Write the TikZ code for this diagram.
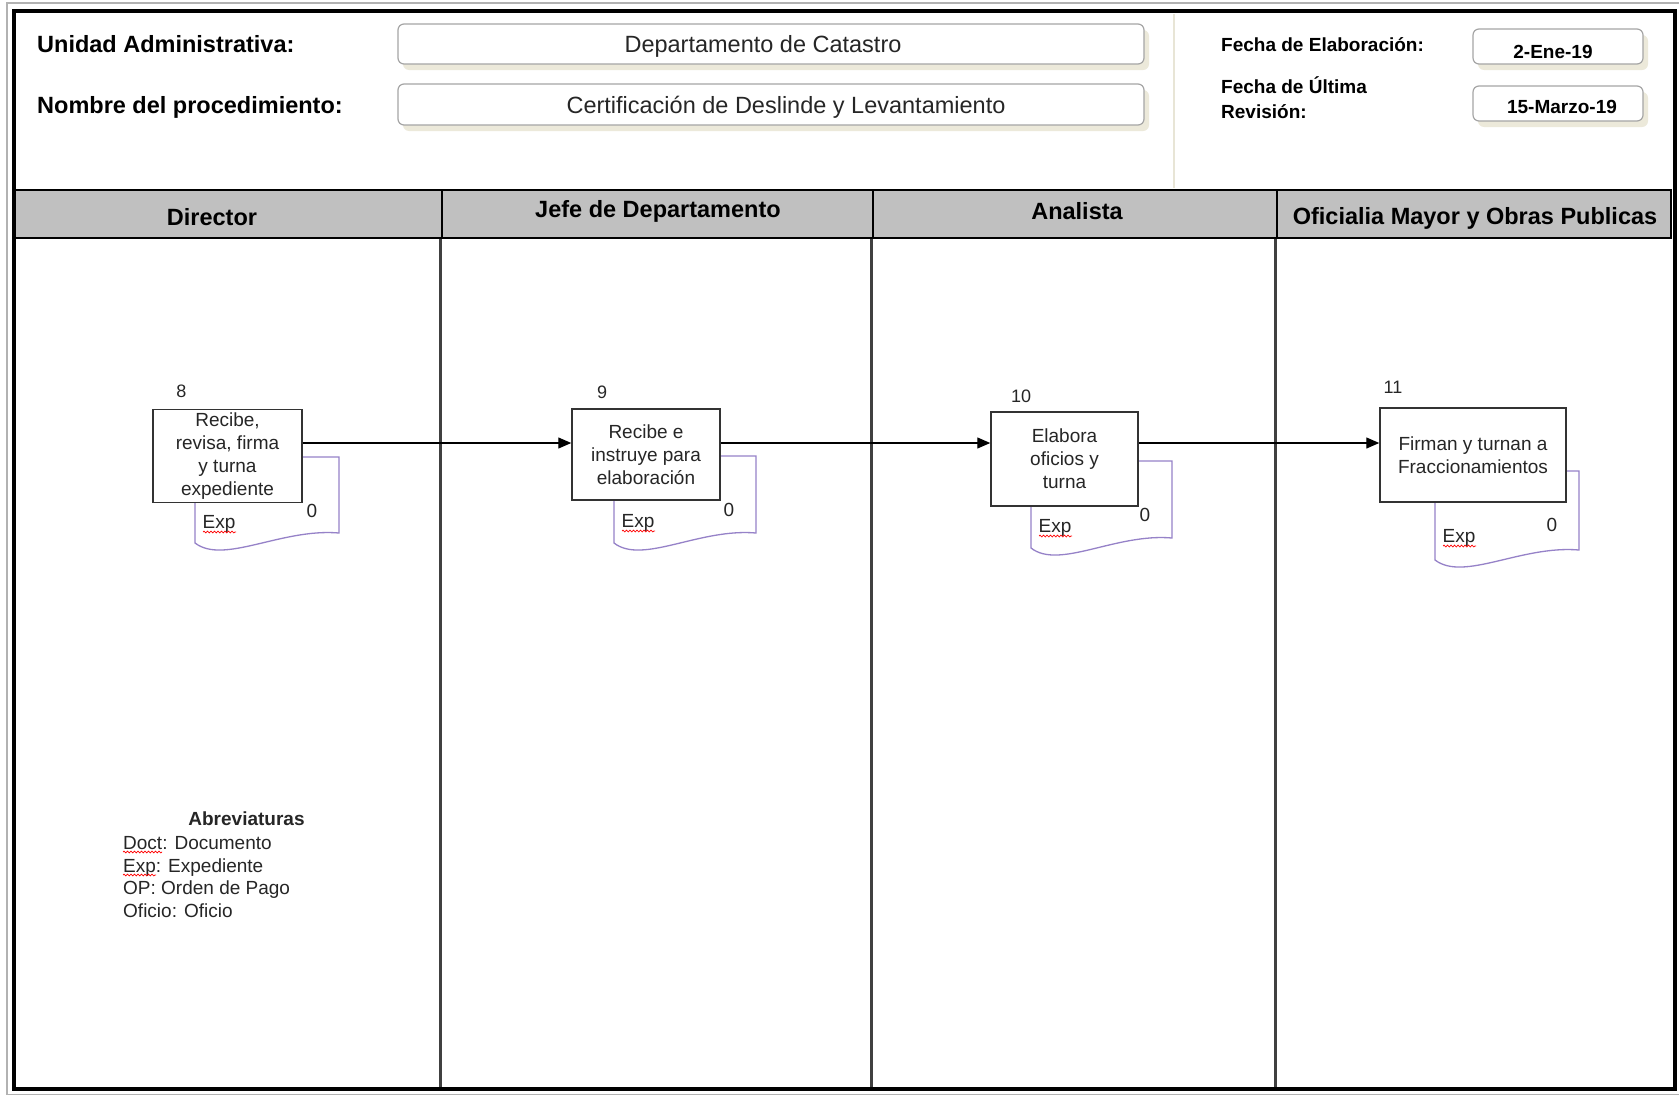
\documentclass[tikz,border=0pt]{standalone}
\usepackage{fontspec}
\setmainfont{Liberation Sans}
\usetikzlibrary{arrows.meta,shadows,decorations.pathmorphing}
\definecolor{hdrgray}{RGB}{192,192,192}
\definecolor{docline}{RGB}{150,130,200}
\definecolor{shadowc}{RGB}{236,233,218}
\definecolor{sepc}{RGB}{232,229,214}
\definecolor{boxline}{RGB}{165,165,165}
\newcommand\docshape[5]{%
  \draw[docshp] (#1,#3) -- (#2,#3) -- (#2,{#4-10})
     .. controls ({#1+0.6*(#2-#1)},{#4-15}) and ({#1+0.2*(#2-#1)},{#4+22}) .. (#1,#4) -- cycle;
  \node[doclbl] (#5exp) at ({#1+24},{#3+65}) {Exp};
  \node[doclbl] (#5zero) at ({#2-27},{#3+54}) {0};
  \draw[squig] ({#1+8},{#3+75}) -- ({#1+41},{#3+75});
}
\begin{document}
\begin{tikzpicture}[x=1pt,y=-1pt,
  capa/.style={inner sep=0pt,text height=16.8pt,text depth=0pt},
  capb/.style={inner sep=0pt,text height=13.6pt,text depth=0pt},
  capc/.style={inner sep=0pt,text height=12.9pt,text depth=0pt},
  hlabel/.style={capa,anchor=west,font=\fontsize{23.5}{26}\selectfont\bfseries},
  htext/.style={capa,font=\fontsize{23.5}{26}\selectfont,text=black!85},
  flabel/.style={capb,anchor=west,font=\fontsize{19}{22}\selectfont\bfseries},
  ftext/.style={capb,font=\fontsize{19}{22}\selectfont\bfseries},
  infobox/.style={draw=boxline,line width=1.2pt,fill=white,rounded corners=6pt,inner sep=0pt,
     drop shadow={shadow xshift=5pt,shadow yshift=-6pt,fill=shadowc,opacity=1}},
  lanehdr/.style={draw=black,line width=2.5pt,fill=hdrgray,inner sep=0pt},
  lanetext/.style={capa,font=\fontsize{23.5}{26}\selectfont\bfseries},
  proc/.style={draw=black!80,line width=1.5pt,fill=white,align=center,inner sep=0pt,
     font=\fontsize{19}{23}\selectfont,text=black!85},
  numlbl/.style={capc,font=\fontsize{18}{20}\selectfont,text=black!85},
  doclbl/.style={capb,font=\fontsize{19}{22}\selectfont,text=black!85},
  abtext/.style={capb,anchor=west,font=\fontsize{19}{22}\selectfont,text=black!85},
  flow/.style={line width=1.3pt,-{Triangle[length=13pt,width=11pt]}},
  docshp/.style={draw=docline,line width=1.3pt,fill=white},
  squig/.style={draw=red,line width=0.7pt,decorate,decoration={snake,amplitude=0.9pt,segment length=3.5pt}},
  lane/.style={draw=black!75,line width=2.6pt},
]
\useasboundingbox (0,0) rectangle (1679,1095);
\fill[white] (0,0) rectangle (1679,1095);

% frame
\draw[gray!60, line width=1.5pt] (7,3) rectangle (1690,1094.5);
\draw[black, line width=4.5pt] (14,11) rectangle (1675,1089);
\draw[sepc, line width=2.5pt] (1174,14) -- (1174,188);

% header info
\node[hlabel] (lua) at (37,44) {Unidad Administrativa:};
\node[hlabel] (lnp) at (37,105) {Nombre del procedimiento:};
\node[infobox,minimum width=746pt,minimum height=40pt] (bua) at (771,44) {};
\node[infobox,minimum width=746pt,minimum height=41pt] (bnp) at (771,104.5) {};
\node[htext] (tua) at (763,44) {Departamento de Catastro};
\node[htext] (tnp) at (786,105) {Certificación de Deslinde y Levantamiento};

\node[flabel] (lfe) at (1221,45) {Fecha de Elaboración:};
\node[flabel] (lfu) at (1221,87) {Fecha de Última};
\node[flabel] (lfr) at (1221,112) {Revisión:};
\node[infobox,minimum width=170pt,minimum height=35pt] (bfe) at (1558,46.5) {};
\node[infobox,minimum width=170pt,minimum height=35pt] (bfr) at (1558,103.5) {};
\node[ftext] (tfe) at (1553,52) {2-Ene-19};
\node[ftext] (tfr) at (1562,107) {15-Marzo-19};

% lane headers
\node[lanehdr,minimum width=427pt,minimum height=48pt] (h1) at (228.5,214) {};
\node[lanehdr,minimum width=431pt,minimum height=48pt] (h2) at (657.5,214) {};
\node[lanehdr,minimum width=404pt,minimum height=48pt] (h3) at (1075,214) {};
\node[lanehdr,minimum width=394pt,minimum height=48pt] (h4) at (1474,214) {};
\node[lanetext] (t1) at (212,217) {Director};
\node[lanetext] (t2) at (658,209) {Jefe de Departamento};
\node[lanetext] (t3) at (1077,211) {Analista};
\node[lanetext] (t4) at (1475,216) {Oficialia Mayor y Obras Publicas};

% lane lines
\coordinate (bot) at (0,1087);
\draw[lane] (h2.south west) -- (h2.south west |- bot);
\draw[lane] (h3.south west) -- (h3.south west |- bot);
\draw[lane] (h4.south west) -- (h4.south west |- bot);

% documents
\docshape{195}{339}{457}{543}{d8}
\docshape{614}{756}{456}{543}{d9}
\docshape{1031}{1172}{461}{548}{d10}
\docshape{1435}{1579}{471}{560}{d11}

% process boxes
\node[proc,minimum width=149pt,minimum height=93pt] (p8) at (227.5,456) {Recibe,\\revisa, firma\\y turna\\expediente};
\node[proc,minimum width=148pt,minimum height=91pt] (p9) at (646,454.5) {Recibe e\\instruye para\\elaboración};
\node[proc,minimum width=147pt,minimum height=94pt] (p10) at (1064.5,459) {Elabora\\oficios y\\turna};
\node[proc,minimum width=186pt,minimum height=94pt] (p11) at (1473,455) {Firman y turnan a\\Fraccionamientos};

\node[numlbl] (n8) at (181.5,391) {8};
\node[numlbl] (n9) at (602,392) {9};
\node[numlbl] (n10) at (1021,396.5) {10};
\node[numlbl] (n11) at (1393,387) {11};

% connectors
\coordinate (ay) at (0,443);
\draw[flow] (p8.east |- ay) -- (p9.west |- ay);
\draw[flow] (p9.east |- ay) -- (p10.west |- ay);
\draw[flow] (p10.east |- ay) -- (p11.west |- ay);

% abbreviations
\node[capb,font=\fontsize{19}{22}\selectfont\bfseries,text=black!85] (abt) at (246.5,818.5) {Abreviaturas};
\node[abtext] (ab1) at (123,843) {Doct: Documento};
\node[abtext] (ab2) at (123,865.5) {Exp: Expediente};
\node[abtext] (ab3) at (123,888) {OP: Orden de Pago};
\node[abtext] (ab4) at (123,911) {Oficio: Oficio};
\draw[squig] (123,852) -- (162,852);
\draw[squig] (123,875) -- (156,875);
\end{tikzpicture}
\end{document}
